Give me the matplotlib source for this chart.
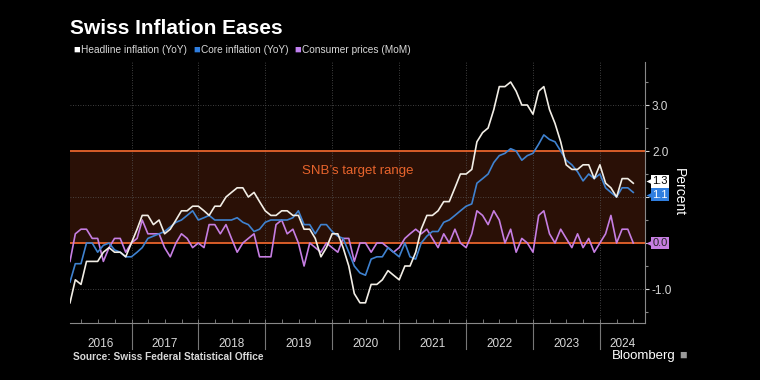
import pandas as pd
import matplotlib
matplotlib.use("Agg")
import matplotlib.pyplot as plt
import matplotlib.dates as mdates
import matplotlib.transforms as mtransforms

# monthly data, Jan 2016 - Jun 2024 (plotted at month end)
months = pd.date_range("2016-01-31", periods=102, freq="ME")

headline = [
    -1.3, -0.8, -0.9, -0.4, -0.4, -0.4, -0.2, -0.1, -0.2, -0.2, -0.3, 0.0,   # 2016
    0.3, 0.6, 0.6, 0.4, 0.5, 0.2, 0.3, 0.5, 0.7, 0.7, 0.8, 0.8,              # 2017
    0.7, 0.6, 0.8, 0.8, 1.0, 1.1, 1.2, 1.2, 1.0, 1.1, 0.9, 0.7,              # 2018
    0.6, 0.6, 0.7, 0.7, 0.6, 0.6, 0.3, 0.3, 0.1, -0.3, -0.1, 0.2,            # 2019
    0.2, -0.1, -0.5, -1.1, -1.3, -1.3, -0.9, -0.9, -0.8, -0.6, -0.7, -0.8,   # 2020
    -0.5, -0.5, -0.2, 0.3, 0.6, 0.6, 0.7, 0.9, 0.9, 1.2, 1.5, 1.5,           # 2021
    1.6, 2.2, 2.4, 2.5, 2.9, 3.4, 3.4, 3.5, 3.3, 3.0, 3.0, 2.8,              # 2022
    3.3, 3.4, 2.9, 2.6, 2.2, 1.7, 1.6, 1.6, 1.7, 1.7, 1.4, 1.7,              # 2023
    1.3, 1.2, 1.0, 1.4, 1.4, 1.3,                                            # 2024
]
core = [
    -0.85, -0.45, -0.45, 0.0, 0.0, -0.2, -0.05, 0.0, -0.15, -0.2, -0.3, -0.3,
    -0.2, -0.1, 0.1, 0.15, 0.2, 0.25, 0.35, 0.45, 0.5, 0.6, 0.7, 0.5,
    0.55, 0.6, 0.5, 0.5, 0.5, 0.5, 0.55, 0.45, 0.4, 0.25, 0.3, 0.45,
    0.5, 0.5, 0.5, 0.5, 0.55, 0.7, 0.4, 0.4, 0.2, 0.4, 0.4, 0.25,
    0.15, 0.1, -0.2, -0.5, -0.65, -0.7, -0.35, -0.3, -0.3, -0.1, -0.2, -0.3,
    0.0, -0.3, -0.35, 0.0, 0.15, 0.25, 0.25, 0.45, 0.5, 0.6, 0.7, 0.8,
    0.85, 1.3, 1.4, 1.5, 1.75, 1.9, 1.95, 2.05, 2.0, 1.8, 1.9, 1.95,
    2.15, 2.35, 2.25, 2.2, 2.0, 1.8, 1.7, 1.55, 1.35, 1.5, 1.4, 1.5,
    1.2, 1.1, 1.0, 1.2, 1.2, 1.1,
]
mom = [
    -0.4, 0.2, 0.3, 0.3, 0.1, 0.1, -0.4, -0.1, 0.1, 0.1, -0.2, 0.0,
    0.1, 0.5, 0.2, 0.2, 0.2, -0.1, -0.3, 0.0, 0.2, 0.1, -0.1, 0.0,
    -0.1, 0.4, 0.4, 0.2, 0.4, 0.1, -0.2, 0.0, 0.1, 0.2, -0.3, -0.3,
    -0.3, 0.4, 0.5, 0.2, 0.3, 0.0, -0.5, 0.0, -0.1, -0.2, 0.0, -0.1,
    -0.2, 0.1, 0.1, -0.4, 0.0, 0.0, -0.2, 0.0, 0.0, -0.1, -0.2, -0.1,
    0.1, 0.2, 0.3, 0.2, 0.3, 0.1, -0.1, 0.2, 0.0, 0.3, 0.0, -0.1,
    0.2, 0.7, 0.6, 0.4, 0.7, 0.5, 0.0, 0.3, -0.2, 0.1, 0.0, -0.2,
    0.6, 0.7, 0.2, 0.0, 0.3, 0.1, -0.1, 0.2, -0.1, 0.1, -0.2, 0.0,
    0.2, 0.6, 0.0, 0.3, 0.3, 0.0,
]
years = list(range(2016, 2025))
target_low, target_high = 0.0, 2.0

WHITE = "#f2eee6"
BLUE = "#3f82d0"
PURPLE = "#c67ee2"
ORANGE = "#e8642c"
GRID = "#555555"
TXT = "#d8d8d8"

plt.rcParams["font.family"] = ["Liberation Sans", "DejaVu Sans"]

fig = plt.figure(figsize=(7.6, 3.8), dpi=100, facecolor="black")
ax = fig.add_axes([70 / 760, 57 / 380, 575 / 760, 261 / 380])
ax.set_facecolor("black")

x_end = pd.Timestamp("2024-09-02")
ax.set_xlim(months[0], x_end)
ax.set_ylim(-1.739, 3.935)

# target band
ax.axhspan(target_low, target_high, color="#2a1006", zorder=0, lw=0)
for v in (target_low, target_high):
    ax.axhline(v, color=ORANGE, lw=1.3, zorder=2)
ax.text(0.5, 1.57, "SNB\u2019s target range", color=ORANGE, fontsize=9.5,
        ha="center", va="center", transform=mtransforms.blended_transform_factory(ax.transAxes, ax.transData))

# grid
for v in (-1, 1, 3):
    ax.axhline(v, color=GRID, lw=0.6, ls=(0, (1, 2)), zorder=1)
xt = mtransforms.blended_transform_factory(ax.transData, ax.transAxes)
for y in years[1:]:
    d = pd.Timestamp(f"{y}-01-01")
    ax.axvline(d, color=GRID, lw=0.6, ls=(0, (1, 2)), zorder=1)
    ax.plot([d, d], [0, -0.1], color="#777777", lw=0.8, transform=xt, clip_on=False)

# series
ax.plot(months, mom, color=PURPLE, lw=1.2, zorder=3)
ax.plot(months, core, color=BLUE, lw=1.2, zorder=4)
ax.plot(months, headline, color=WHITE, lw=1.2, zorder=5)

# year labels
x0, x1 = mdates.date2num(months[0]), mdates.date2num(x_end)
for y in years:
    a = max(mdates.date2num(pd.Timestamp(f"{y}-01-01")), x0)
    b = min(mdates.date2num(pd.Timestamp(f"{y + 1}-01-01")), x1)
    ax.text((a + b) / 2, -0.08, str(y), transform=xt, ha="center", va="center",
            color=TXT, fontsize=8.5)

# axes styling
for s in ("top", "left"):
    ax.spines[s].set_visible(False)
ax.spines["right"].set_color("#888888")
ax.spines["bottom"].set_color("#888888")
ax.yaxis.tick_right()
# 0.0 and 1.0 labels sit under the last-value tags
ax.set_yticks([-1, 0, 1, 2, 3])
ax.set_yticklabels(["-1.0", "", "", "2.0", "3.0"])
ax.set_yticks([-1.5, -0.5, 0.5, 1.5, 2.5, 3.5], minor=True)
ax.tick_params(axis="y", which="major", colors=TXT, labelsize=8.5, length=3, width=0.8, pad=2)
ax.tick_params(axis="y", which="minor", colors="#888888", length=2, width=0.8)
ax.set_xticks([])
ax.xaxis.set_minor_locator(mdates.MonthLocator(bymonth=[1, 4, 7, 10]))
ax.tick_params(axis="x", which="minor", direction="in", length=3, colors="#888888", labelbottom=False)
ax.yaxis.set_label_position("right")
ax.set_ylabel("Percent", color="white", fontsize=10, rotation=270, labelpad=10)

# last value tags (nudged apart slightly so the two top ones stay readable)
yt = mtransforms.blended_transform_factory(ax.transAxes, ax.transData)
tags = [(mom[-1], 0.0, PURPLE, "#222222"), (headline[-1], 0.04, "white", "black"),
        (core[-1], -0.05, "#2f7ee0", "white")]
for val, nudge, bg, fg in tags:
    pos = val + nudge
    ax.plot([1.009], [pos], marker="<", ms=5.5, color=bg, transform=yt, clip_on=False, zorder=6, mec="none")
    ax.text(1.013, pos, f"{val:.1f}", transform=yt, ha="left", va="center", fontsize=8,
            color=fg, zorder=7, bbox=dict(boxstyle="square,pad=0.12", fc=bg, ec="none"))

# title and legend
fig.text(70 / 760, 1 - 28 / 380, "Swiss Inflation Eases", color="white", fontsize=15,
         fontweight="bold", va="center", ha="left")
fig.canvas.draw()
renderer = fig.canvas.get_renderer()
lx = 73
for label, col in [("Headline inflation (YoY)", "white"), ("Core inflation (YoY)", "#2f7ee0"),
                   ("Consumer prices (MoM)", "#c080f0")]:
    fig.text(lx / 760, 1 - 50 / 380, "\u25a0", color=col, fontsize=8, va="center", ha="left")
    t = fig.text((lx + 8) / 760, 1 - 50 / 380, label, color=TXT, fontsize=7.3, va="center", ha="left")
    bb = t.get_window_extent(renderer)
    lx = bb.x1 + 6

fig.text(73 / 760, 1 - 357 / 380, "Source: Swiss Federal Statistical Office", color=TXT,
         fontsize=7.3, fontweight="bold", va="center", ha="left")
fig.text(612 / 760, 1 - 356 / 380, "Bloomberg", color="white", fontsize=9.5, va="center", ha="left")
fig.text(679 / 760, 1 - 356 / 380, "\u25a0", color="#999999", fontsize=9, va="center", ha="left")

fig.savefig("out.png", dpi=100, facecolor="black")
